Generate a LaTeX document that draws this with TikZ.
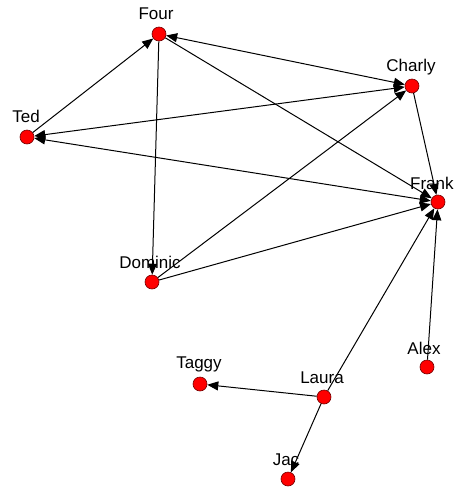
\documentclass[tikz,border=0pt]{standalone}
\usepackage{fontspec}
\setmainfont{Liberation Sans}
\usetikzlibrary{arrows.meta}
\begin{document}
\begin{tikzpicture}[x=1pt,y=-1pt,
  actor/.style={circle,fill=red,draw=red!45!black,line width=0.6pt,minimum size=14pt,inner sep=0pt},
  lbl/.style={font=\fontsize{17}{17}\selectfont,text=black,inner sep=0pt},
  tie/.style={draw=black,line width=1pt,-{Triangle[length=11pt,width=9pt]}},
  tiebi/.style={draw=black,line width=1pt,{Triangle[length=11pt,width=9pt]}-{Triangle[length=11pt,width=9pt]}}]
\useasboundingbox (0,0) rectangle (459,491);
\clip (0,0) rectangle (459,491);
\fill[white] (0,0) rectangle (459,491);
% nodes
\node[actor] (four) at (159,34) {};
\node[actor] (charly) at (412,86) {};
\node[actor] (ted) at (27,137) {};
\node[actor] (frank) at (438,202) {};
\node[actor] (dominic) at (152,282) {};
\node[actor] (alex) at (427,367) {};
\node[actor] (taggy) at (200,384) {};
\node[actor] (laura) at (324,397) {};
\node[actor] (jac) at (288,479) {};
% edges
\draw[tie] (ted) -- (four);
\draw[tiebi] (four) -- (charly);
\draw[tiebi] (ted) -- (charly);
\draw[tiebi] (ted) -- (frank);
\draw[tie] (four) -- (dominic);
\draw[tie] (four) -- (frank);
\draw[tie] (charly) -- (frank);
\draw[tie] (dominic) -- (charly);
\draw[tie] (dominic) -- (frank);
\draw[tie] (alex) -- (frank);
\draw[tie] (laura) -- (frank);
\draw[tie] (laura) -- (taggy);
\draw[tie] (laura) -- (jac);
% labels
\node[lbl] (lfour) at (156,14) {Four};
\node[lbl] (lcharly) at (411,67) {Charly};
\node[lbl] (lted) at (26,116) {Ted};
\node[lbl,anchor=west] (lfrank) at (410,183) {Frank};
\node[lbl] (ldominic) at (150,262) {Dominic};
\node[lbl] (lalex) at (424,348) {Alex};
\node[lbl] (ltaggy) at (199,364) {Taggy};
\node[lbl] (llaura) at (322,378) {Laura};
\node[lbl] (ljac) at (286,460) {Jac};
\end{tikzpicture}
\end{document}
